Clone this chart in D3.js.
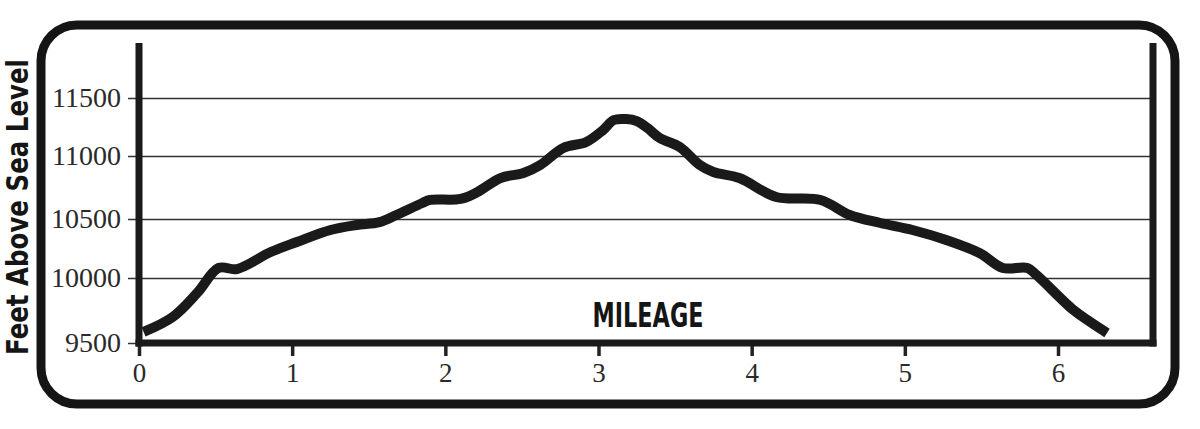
<!DOCTYPE html>
<html>
<head>
<meta charset="utf-8">
<script src="https://cdn.jsdelivr.net/npm/d3@7"></script>
<style>
  html, body { margin: 0; padding: 0; background: #fff; }
  svg { display: block; }
</style>
</head>
<body>
<svg id="chart" width="1200" height="429"></svg>
<script>
// ---- data ----
const mileage = [0.03, 0.22, 0.38, 0.52, 0.64, 0.86, 1.03, 1.25, 1.42, 1.57, 1.68, 1.85, 1.90, 2.10, 2.21, 2.36, 2.51, 2.62, 2.77, 2.92, 3.03, 3.10, 3.18, 3.25, 3.32, 3.40, 3.53, 3.66, 3.75, 3.92, 4.16, 4.45, 4.64, 4.84, 5.05, 5.27, 5.49, 5.64, 5.80, 5.86, 6.10, 6.21, 6.32];
const elevation = [9585, 9700, 9885, 10085, 10076, 10220, 10305, 10407, 10449, 10474, 10532, 10627, 10651, 10659, 10714, 10825, 10865, 10929, 11069, 11121, 11224, 11310, 11318, 11300, 11241, 11155, 11078, 10929, 10873, 10825, 10675, 10651, 10532, 10466, 10407, 10322, 10210, 10085, 10085, 10025, 9754, 9662, 9577];
const xTicks = [0, 1, 2, 3, 4, 5, 6];
const yTicks = [9500, 10000, 10500, 11000, 11500];
const yAxisTitle = "Feet Above Sea Level";
const xAxisTitle = "MILEAGE";

// ---- layout ----
const svg = d3.select("#chart");
const plotLeft = 139, plotRight = 1153, plotBottom = 343, plotTop = 43;

const x = d3.scaleLinear().domain([0, 6]).range([plotLeft, 1058]);
// hand-drawn grid spacing is slightly uneven
const y = d3.scaleLinear().domain([9500, 10000, 10500, 11000, 11500]).range([plotBottom, 278, 219, 156, 98]);

// frame
svg.append("rect")
  .attr("x", 41).attr("y", 25).attr("width", 1134).attr("height", 379)
  .attr("rx", 36).attr("ry", 36)
  .attr("fill", "none").attr("stroke", "#151515").attr("stroke-width", 9);

// grid + y ticks via axis
const yAxis = d3.axisLeft(y).tickValues(yTicks).tickSize(plotRight - plotLeft + 11).tickPadding(7).tickFormat(d3.format("d"));
const gy = svg.append("g").attr("transform", `translate(${plotRight},0)`).call(yAxis);
gy.select(".domain").remove();
gy.selectAll(".tick line").attr("stroke", "#333").attr("stroke-width", 1.6);
gy.selectAll(".tick text")
  .attr("fill", "#2a2a2a")
  .style("font-family", "'Liberation Serif', 'DejaVu Serif', serif")
  .style("font-size", "28px");

// x axis ticks
const xAxis = d3.axisBottom(x).tickValues(xTicks).tickSize(13).tickPadding(7).tickFormat(d3.format("d"));
const gx = svg.append("g").attr("transform", `translate(0,${plotBottom})`).call(xAxis);
gx.select(".domain").remove();
gx.selectAll(".tick line").attr("stroke", "#222").attr("stroke-width", 3.5);
gx.selectAll(".tick text")
  .attr("fill", "#2a2a2a")
  .style("font-family", "'Liberation Serif', 'DejaVu Serif', serif")
  .style("font-size", "27px");

// thick axes
const axisStroke = "#1a1a1a";
svg.append("line").attr("x1", plotLeft).attr("x2", plotLeft).attr("y1", plotTop).attr("y2", plotBottom + 3.5)
  .attr("stroke", axisStroke).attr("stroke-width", 7);
svg.append("line").attr("x1", plotRight).attr("x2", plotRight).attr("y1", plotTop).attr("y2", plotBottom + 3.5)
  .attr("stroke", axisStroke).attr("stroke-width", 7);
svg.append("line").attr("x1", plotLeft - 3.5).attr("x2", plotRight + 3.5).attr("y1", plotBottom).attr("y2", plotBottom)
  .attr("stroke", axisStroke).attr("stroke-width", 7);

// elevation profile
const pts = mileage.map((m, i) => [m, elevation[i]]);
const line = d3.line().x(d => x(d[0])).y(d => y(d[1])).curve(d3.curveCatmullRom.alpha(0.5));
svg.append("path").datum(pts)
  .attr("d", line)
  .attr("fill", "none").attr("stroke", "#1a1a1a")
  .attr("stroke-width", 10).attr("stroke-linejoin", "round").attr("stroke-linecap", "butt");

// titles
svg.append("text")
  .attr("transform", "translate(28,207) rotate(-90)")
  .attr("text-anchor", "middle")
  .attr("textLength", 296).attr("lengthAdjust", "spacingAndGlyphs")
  .style("font-family", "'Liberation Sans Narrow', 'DejaVu Sans Condensed', 'Liberation Sans', sans-serif")
  .style("font-weight", "bold").style("font-size", "30px").attr("fill", "#151515")
  .text(yAxisTitle);

svg.append("text")
  .attr("x", 648).attr("y", 327)
  .attr("text-anchor", "middle")
  .attr("textLength", 111).attr("lengthAdjust", "spacingAndGlyphs")
  .style("font-family", "'Liberation Sans Narrow', 'DejaVu Sans Condensed', 'Liberation Sans', sans-serif")
  .style("font-weight", "bold").style("font-size", "34px").attr("fill", "#151515")
  .text(xAxisTitle);
</script>
</body>
</html>
